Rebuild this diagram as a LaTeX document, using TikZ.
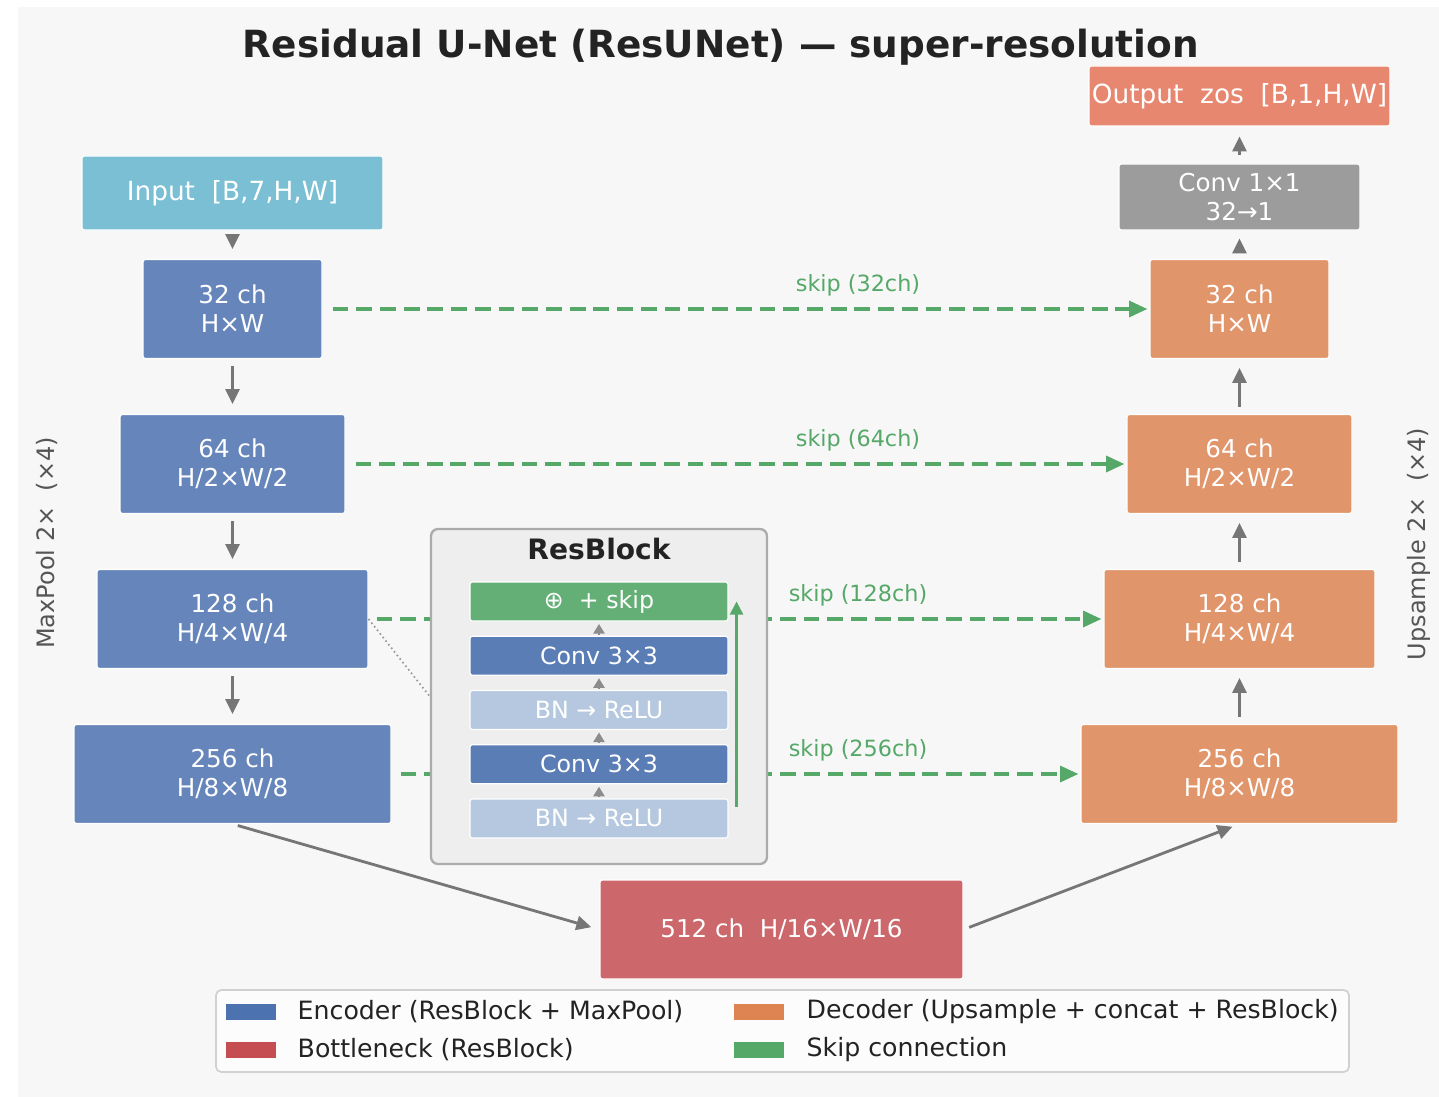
\documentclass[tikz,border=0pt]{standalone}
\usepackage{fontspec}
\setmainfont{DejaVu Sans}
\usepackage{tikz}
\usetikzlibrary{arrows.meta,positioning,calc}

\definecolor{panelbg}{HTML}{F7F7F7}
\definecolor{encblue}{HTML}{6686BB}
\definecolor{decorange}{HTML}{E1956B}
\definecolor{bottred}{HTML}{CC676B}
\definecolor{inputcyan}{HTML}{7ABFD3}
\definecolor{outsalmon}{HTML}{E8876F}
\definecolor{convgray}{HTML}{9C9C9C}
\definecolor{skipgreen}{HTML}{55A868}
\definecolor{arrowgray}{HTML}{767676}
\definecolor{rbfill}{HTML}{EEEEEE}
\definecolor{rbedge}{HTML}{ABABAB}
\definecolor{layconv}{HTML}{5A7DB5}
\definecolor{laybn}{HTML}{B5C8E0}
\definecolor{layadd}{HTML}{64AF75}
\definecolor{legenc}{HTML}{4C72B0}
\definecolor{legbott}{HTML}{C44E52}
\definecolor{legdec}{HTML}{DD8452}
\definecolor{sidegray}{HTML}{555555}
\definecolor{inkdark}{HTML}{232323}

\newcommand{\ttlfont}{\fontsize{21.3}{25}\selectfont\bfseries}
\newcommand{\blkfont}{\fontsize{14}{16.5}\selectfont}
\newcommand{\iofont}{\fontsize{15}{18}\selectfont}
\newcommand{\layfont}{\fontsize{13.5}{16}\selectfont}
\newcommand{\skipfont}{\fontsize{12.7}{15}\selectfont}
\newcommand{\sidefont}{\fontsize{13.65}{16}\selectfont}
\newcommand{\legfont}{\fontsize{14.35}{17}\selectfont}

\tikzset{
    %Define standard arrow tip
    >={Triangle[length=8.5pt,width=8pt]},
    %Define style for boxes
    blk/.style={
           rectangle,
           draw=white,
           line width=0.6pt,
           rounded corners=1.5pt,
           text=white,
           align=center,
           font=\blkfont,
           inner sep=0pt},
    title/.style={
           text=inkdark,
           font=\ttlfont,
           text centered},
    % Define arrow style
    pil/.style={
           ->,
           color=arrowgray,
           line width=1.6pt},
    skiparrow/.style={
           -{Triangle[length=10.5pt,width=9pt]},
           color=skipgreen,
           line width=2.2pt,
           dash pattern=on 9pt off 4.5pt,
           shorten <=0.2cm,
           shorten >=0.04cm}
}

\begin{document}
\begin{tikzpicture}[node distance=3.1cm]
	\tikzstyle{enc} = [blk, fill=encblue, minimum height=1.98cm]
	\tikzstyle{dec} = [blk, fill=decorange, minimum height=1.98cm]
	\tikzstyle{layer} = [blk, minimum width=5.16cm, minimum height=0.78cm, font=\layfont]
	\tikzstyle{mini} = [-{Triangle[length=5.5pt,width=6.5pt]}, color=gray!90, line width=0.8pt, shorten <=0.02cm, shorten >=0.05cm]
	\tikzstyle{skiplbl} = [text=skipgreen, font=\skipfont, yshift=0.48cm]
	\tikzstyle{sidelbl} = [text=sidegray, font=\sidefont, rotate=90]
	\tikzstyle{patch} = [rectangle, minimum width=1cm, minimum height=0.32cm, inner sep=0pt]
	\tikzstyle{legtxt} = [anchor=west, text=inkdark, font=\legfont, inner sep=0pt]

	% Canvas
	\useasboundingbox (0,0) rectangle (28.78,-21.94);
	\fill[panelbg] (0.36,-0.14) rectangle (28.78,-21.94);

	\node[title] (ttl) at (14.42,-0.94) {Residual U-Net (ResUNet) — super-resolution};

	% Encoder path
	\node[enc, minimum width=3.58cm] (enc1) at (4.65,-6.18) {32 ch\\H×W};
	\node[enc, minimum width=4.5cm, below of=enc1] (enc2) {64 ch\\H/2×W/2};
	\node[enc, minimum width=5.42cm, below of=enc2] (enc3) {128 ch\\H/4×W/4};
	\node[enc, minimum width=6.34cm, below of=enc3] (enc4) {256 ch\\H/8×W/8};
	\node[blk, fill=inputcyan, minimum width=6.02cm, minimum height=1.48cm, font=\iofont, above of=enc1, yshift=-0.78cm] (input) {Input~~[B,7,H,W]};

	% Decoder path
	\node[dec, minimum width=3.58cm] (dec1) at (24.79,-6.18) {32 ch\\H×W};
	\node[dec, minimum width=4.5cm, below of=dec1] (dec2) {64 ch\\H/2×W/2};
	\node[dec, minimum width=5.42cm, below of=dec2] (dec3) {128 ch\\H/4×W/4};
	\node[dec, minimum width=6.34cm, below of=dec3] (dec4) {256 ch\\H/8×W/8};
	\node[blk, fill=convgray, minimum width=4.82cm, minimum height=1.32cm, above of=dec1, yshift=-0.86cm] (conv1) {Conv 1×1\\32→1};
	\node[blk, fill=outsalmon, minimum width=6.02cm, minimum height=1.2cm, font=\iofont, above of=conv1, yshift=-1.08cm] (out) {Output~~zos~~[B,1,H,W]};

	% Bottleneck
	\node[blk, fill=bottred, minimum width=7.26cm, minimum height=1.98cm] (bott) at (15.63,-18.59) {512 ch~~H/16×W/16};

	\path[pil] (input) edge[shorten <=0.12cm, shorten >=0.2cm] (enc1)
	           (enc1) edge[shorten <=0.14cm, shorten >=0.2cm] (enc2)
	           (enc2) edge[shorten <=0.14cm, shorten >=0.2cm] (enc3)
	           (enc3) edge[shorten <=0.14cm, shorten >=0.2cm] (enc4);

	\path[pil] (dec4) edge[shorten <=0.14cm, shorten >=0.18cm] (dec3)
	           (dec3) edge[shorten <=0.14cm, shorten >=0.18cm] (dec2)
	           (dec2) edge[shorten <=0.14cm, shorten >=0.18cm] (dec1)
	           (dec1) edge[shorten <=0.16cm, shorten >=0.16cm] (conv1)
	           (conv1) edge[shorten <=0.16cm, shorten >=0.2cm] (out);

	\path[pil] (enc4.south) edge[shorten <=0.11cm, shorten >=0.17cm] (bott.west)
	           (bott.east) edge[shorten <=0.12cm, shorten >=0.15cm] (dec4.south);

	% Skip connections
	\path[skiparrow] (enc1) edge (dec1)
	                 (enc2) edge (dec2)
	                 (enc3) edge[shorten <=0.16cm] (dec3)
	                 (enc4) edge[shorten <=0.18cm] (dec4);
	\node[skiplbl] (s1) at (17.16,0 |- enc1) {skip (32ch)};
	\node[skiplbl] (s2) at (17.16,0 |- enc2) {skip (64ch)};
	\node[skiplbl] (s3) at (17.16,0 |- enc3) {skip (128ch)};
	\node[skiplbl] (s4) at (17.16,0 |- enc4) {skip (256ch)};

	% ResBlock detail
	\node[rectangle, fill=rbfill, draw=rbedge, line width=1.3pt, rounded corners=4pt, minimum width=6.72cm, minimum height=6.7cm] (rb) at (11.98,-13.93) {};
	\node[text=inkdark, font=\fontsize{16}{19}\selectfont\bfseries] (rbt) at ([yshift=-0.42cm]rb.north) {ResBlock};
	\draw[draw=gray!80, line width=1pt, dash pattern=on 0.9pt off 1.7pt] (enc3.east) -- (rb.west);

	\begin{scope}[node distance=1.085cm]
	\node[layer, fill=layadd] (l1) at (11.98,-12.03) {⊕~~+ skip};
	\node[layer, fill=layconv, below of=l1] (l2) {Conv 3×3};
	\node[layer, fill=laybn, below of=l2] (l3) {BN → ReLU};
	\node[layer, fill=layconv, below of=l3] (l4) {Conv 3×3};
	\node[layer, fill=laybn, below of=l4] (l5) {BN → ReLU};
	\end{scope}

	\path[mini] (l5) edge (l4)
	            (l4) edge (l3)
	            (l3) edge (l2)
	            (l2) edge (l1);

	\coordinate (resin) at ([xshift=0.16cm, yshift=0.24cm]l5.east);
	\coordinate (resout) at ([xshift=0.16cm]l1.east);
	\draw[-{Triangle[length=7.5pt,width=7.5pt]}, draw=skipgreen, line width=1.3pt] (resin) -- (resout);

	% Side labels
	\node[sidelbl] (pool) at (0.94,-10.86) {MaxPool 2×~~(×4)};
	\node[sidelbl] (upsm) at (28.38,-10.88) {Upsample 2×~~(×4)};

	% Legend
	\node[rectangle, fill=white!60!panelbg, draw=black!18, line width=1pt, rounded corners=3pt, minimum width=22.66cm, minimum height=1.64cm] (leg) at (15.65,-20.62) {};
	\node[patch, fill=legenc] (pe) at (5.02,-20.23) {};
	\node[patch, fill=legbott] (pb) at (5.02,-20.99) {};
	\node[patch, fill=legdec] (pd) at (15.18,-20.23) {};
	\node[patch, fill=skipgreen] (ps) at (15.18,-20.99) {};
	\node[legtxt, right=0.42cm of pe] (te) {Encoder (ResBlock + MaxPool)};
	\node[legtxt, right=0.42cm of pb] (tb) {Bottleneck (ResBlock)};
	\node[legtxt, right=0.44cm of pd] (td) {Decoder (Upsample + concat + ResBlock)};
	\node[legtxt, right=0.44cm of ps] (ts) {Skip connection};
\end{tikzpicture}
\end{document}
